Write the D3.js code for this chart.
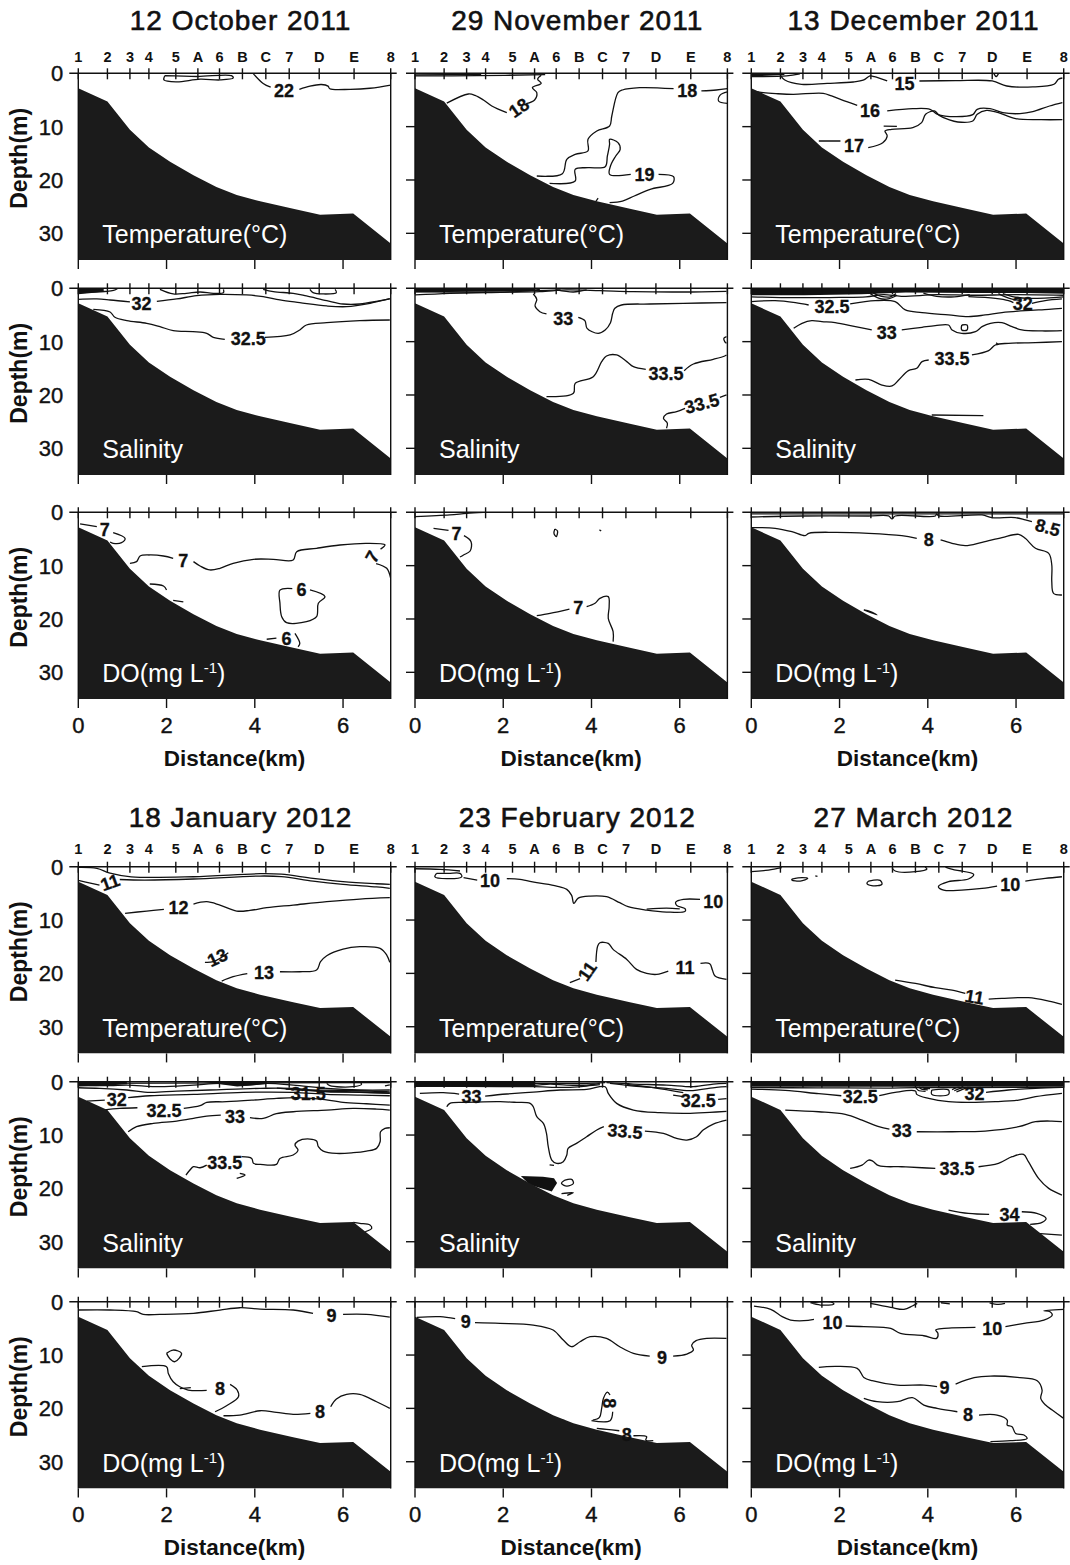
<!DOCTYPE html>
<html><head><meta charset="utf-8">
<script src="https://cdn.jsdelivr.net/npm/d3@7"></script>
<style>body{margin:0;background:#fff}svg{display:block}text{font-family:"Liberation Sans",Arial,sans-serif}</style>
</head><body><svg id="c" width="1070" height="1565"></svg>
<script>
// ---------------- data ----------------
const dates = ["12 October 2011","29 November 2011","13 December 2011","18 January 2012","23 February 2012","27 March 2012"];
const stationNames = ["1","2","3","4","5","A","6","B","C","7","D","E","8"];
const stationKm = [0,0.66,1.17,1.60,2.21,2.71,3.20,3.72,4.25,4.78,5.46,6.25,7.08];
const bathyKm = [0,0.66,1.17,1.60,2.08,2.61,3.13,3.59,4.12,4.87,5.48,6.23,7.08];
const bathyDepth = [2.8,5.3,10.6,13.9,16.6,19.1,21.3,22.8,24.0,25.4,26.5,26.3,31.9];
const xTicks = [0,2,4,6];
const yTicks = [0,10,20,30];

// contour polylines: [km, depth(m)]; labels: [km, depth, text, angle]
const lines_T0 = [
 [[1.96,0.45],[1.94,1.25],[2.23,1.6],[2.76,1.1],[3.21,1.25],[3.51,0.9],[3.47,0.45],[2.7,0.6],[1.96,0.45]],
 [[3.97,0.1],[4.19,1.9],[4.36,2.6]],
 [[5.01,3.0],[5.25,2.4],[5.51,2.1],[5.66,2.4],[5.70,2.9],[6.16,3.0],[6.61,2.8],[7.08,2.2]]];
const labels_T0 = [[4.66,3.25,"22",0]];

const lines_S0 = [
 [[0,0.3],[0.57,0.25]],[[0,0.55],[0.57,0.45]],[[0,0.8],[0.6,0.6],[0.8,0.4],[0.9,0]],
 [[1.85,0.2],[2.15,1.06],[2.45,0.94],[2.76,0.69],[3.06,0.94],[3.29,0.81],[3.29,0.2]],
 [[0,2.06],[0.42,2.0],[0.72,2.19],[1.17,2.56]],
 [[1.78,2.44],[2.23,2.0],[2.68,1.38],[3.21,1.13],[3.81,1.25],[4.19,1.56],[4.57,2.19],[5.02,2.69],[5.63,3.31],[6.08,3.44],[6.61,2.81],[7.06,1.94]],
 [[4.19,0.19],[4.42,0.63],[4.87,0.94],[5.17,1.44],[5.63,2.31],[6.0,2.94],[6.38,2.94],[6.84,2.31],[7.06,2.0]],
 [[5.25,0.19],[5.32,0.81],[5.55,1.06],[5.85,0.81],[5.82,0.19]],
 [[0.34,3.94],[0.72,4.44],[0.83,5.44],[1.10,6.06],[1.55,6.56],[1.85,7.19],[2.15,7.94],[2.60,8.13],[2.91,8.44],[3.06,9.19],[3.32,9.56]],
 [[4.23,9.19],[4.80,8.75],[5.02,7.81],[5.17,6.88],[5.63,6.44],[6.38,6.06],[7.06,5.94]]];
const labels_S0 = [[1.43,2.8,"32",0],[3.85,9.4,"32.5",0]];
const patch_S0 = [[[0,0],[0.57,0],[0.57,0.6],[0.3,0.9],[0,1.1]]];

const lines_D0 = [
 [[0.04,2.19],[0.42,2.69]],
 [[0.79,3.81],[1.06,4.88],[0.98,5.69],[0.79,5.81],[0.72,5.56]],
 [[1.17,9.56],[1.32,9.25],[1.40,8.19],[1.62,8.0],[1.93,8.19],[2.15,8.63]],
 [[2.61,9.25],[2.76,10.06],[2.98,10.81],[3.21,10.5],[3.51,9.56],[3.97,8.81],[4.42,8.81],[4.87,8.94],[4.95,7.38],[5.40,6.75],[5.93,6.13],[6.53,5.81],[6.95,6.1],[6.85,6.9]],
 [[6.75,9.6],[6.99,10.5],[7.08,12.4]],
 [[1.62,13.44],[1.93,13.81],[2.0,14.56]],
 [[2.15,16.5],[2.38,16.8]],
 [[5.25,14.56],[5.59,15.81],[5.44,17.06],[5.40,19.56],[5.17,20.5],[4.72,20.69],[4.61,19.56],[4.57,17.06],[4.57,14.6],[4.85,14.3]],
 [[4.27,23.8],[4.49,23.6]],
 [[4.91,22.7],[5.02,24.6],[4.98,25.2]]];
const labels_D0 = [[0.60,3.2,"7",0],[2.38,9.06,"7",0],[6.66,8.3,"7",-60],[5.06,14.5,"6",0],[4.72,23.6,"6",0]];

const lines_T1 = [
 [[0,0.5],[1.4,0.45],[2.95,0.25]],[[0,0.3],[1.5,0.2]],
 [[2.86,0.38],[2.78,1.13],[2.86,1.88],[2.66,2.69],[2.76,3.63],[2.71,5.0],[2.52,5.69]],
 [[2.08,7.38],[1.74,6.13],[1.55,5.0],[1.36,4.13],[1.21,3.88],[0.72,5.6]],
 [[2.76,19.25],[3.34,18.81],[3.44,16.13],[3.63,15.19],[3.92,14.56],[3.92,12.38],[4.12,10.81],[4.41,9.88],[4.46,8.0],[4.60,3.63],[4.70,3.13],[5.09,2.69],[5.86,2.88]],
 [[6.49,3.31],[6.83,3.13],[7.08,2.88]],
 [[7.08,3.5],[6.91,4.13],[6.88,5.19],[7.08,5.63]],
 [[3.05,20.63],[3.63,20.19],[3.63,18.0],[3.92,17.69],[4.31,17.5],[4.36,15.5],[4.41,13.31],[4.41,12.38],[4.60,13.0],[4.65,14.25],[4.55,15.5],[4.43,17.38],[4.41,18.94],[4.89,18.94]],
 [[5.52,18.94],[5.86,19.38],[5.84,20.63],[5.33,21.75],[4.97,23.0],[4.70,23.94],[4.41,24.25]],
 [[4.1,24.0],[4.15,23.4]]];
const labels_T1 = [[2.35,6.44,"18",-35],[6.17,3.19,"18",0],[5.20,19.06,"19",0]];

const lines_S1 = [
 [[0,1.25],[0.79,0.94],[1.93,0.75],[2.83,0.63],[3.44,0.31],[4.19,0.44],[4.95,0.63],[6.08,0.69],[7.06,0.56]],
 [[0,0.31],[2.68,0.44],[3.3,0.3]],
 [[0,0.63],[2.30,0.63],[2.83,0.19]],
 [[3.21,0.31],[3.59,0.69],[3.89,0.31]],
 [[2.68,1.06],[2.76,2.06],[2.72,3.31],[2.83,4.38],[2.98,4.81]],
 [[3.70,5.44],[3.85,6.06],[3.90,7.5],[4.15,8.44],[4.31,7.81],[4.43,6.44],[4.48,4.69],[4.53,3.75],[4.68,3.13],[5.32,2.94],[6.08,2.81],[7.06,2.69]],
 [[2.98,20.31],[3.59,19.69],[3.63,17.81],[4.04,16.56],[4.23,13.75],[4.34,12.69],[4.57,12.5],[4.80,13.75],[4.95,14.69],[5.23,15.19]],
 [[6.10,15.44],[6.31,14.19],[6.76,13.31],[7.02,12.69],[7.06,12.5]],
 [[7.06,9.06],[7.0,9.38],[7.02,10.0],[7.06,10.31]],
 [[5.70,26.25],[5.72,25.31],[5.63,24.38],[5.70,23.56],[5.93,23.13],[6.12,22.5]],
 [[6.91,20.44],[7.06,20.0]]];
const labels_S1 = [[3.36,5.63,"33",0],[5.69,15.94,"33.5",0],[6.50,21.56,"33.5",-15]];
const patch_S1 = [[[0,0],[2.7,0],[2.7,0.5],[1.5,0.6],[0,0.8]]];

const lines_D1 = [
 [[0,0.81],[0.79,0.5],[1.17,0.19],[1.55,0]],
 [[0.42,3.0],[0.76,3.38]],
 [[1.11,4.38],[1.27,5.5],[1.25,7.25],[1.10,8.0],[1.02,8.38]],
 [[3.17,3.13],[3.23,3.5],[3.20,4.56],[3.15,3.94],[3.17,3.13]],
 [[4.18,3.3],[4.22,3.5]],
 [[2.76,19.38],[3.06,18.94],[3.50,18.13]],
 [[3.89,17.69],[4.08,17.06],[4.19,16.13],[4.38,15.81],[4.40,17.69],[4.38,19.88],[4.49,22.38],[4.49,24.25]]];
const labels_D1 = [[0.94,4.06,"7",0],[3.70,17.88,"7",0]];

const lines_T2 = [
 [[0,0.6],[0.8,0.5],[1.1,0.1]],
 [[0.66,0.38],[0.76,1.25],[1.14,2.06],[1.72,1.88],[2.31,1.63],[2.55,1.25],[2.69,0.5],[2.79,0.63],[3.08,1.44]],
 [[3.81,1.44],[4.63,1.38],[5.46,1.44],[5.79,2.38],[6.38,2.56],[6.86,2.06],[6.96,1.13],[7.05,0.88]],
 [[5.5,0.1],[5.55,0.6],[5.6,0.1]],
 [[0,3.31],[0.27,3.63],[0.56,3.81],[0.95,3.94],[1.63,3.75],[1.82,4.25],[2.11,5.19],[2.40,6.0]],
 [[3.08,7.06],[3.66,6.63],[4.05,6.75],[4.22,7.69],[4.63,8.13],[5.02,7.75],[5.12,6.75],[5.41,6.63],[5.70,7.38],[6.09,7.56],[6.38,7.19],[6.76,6.13],[7.05,5.5]],
 [[1.53,12.69],[2.02,12.69]],
 [[2.65,13.94],[2.98,13.0],[3.08,11.75],[3.03,10.81],[3.18,10.5],[3.66,10.19],[3.86,9.25],[3.95,7.69],[4.15,7.06],[4.26,7.88],[4.49,8.75],[4.68,9.13],[5.02,8.94],[5.12,7.69],[5.33,6.94],[5.60,7.38],[5.99,8.5],[6.57,8.69],[7.05,8.69]],
 [[3.0,9.9],[3.3,9.95]]];
const labels_T2 = [[3.47,1.88,"15",0],[2.69,7.06,"16",0],[2.33,13.5,"17",0]];
const patch_T2 = [[[0,0],[0.75,0],[0.75,0.3],[0,0.6]]];

const lines_S2 = [
 [[0,1.6],[1.0,1.75],[2.0,1.7],[2.6,1.6],[3.0,1.2],[3.4,1.5],[4.2,1.2],[5.0,1.3],[6.0,1.2],[7.08,1.3]],
 [[2.66,0.8],[2.9,1.9],[3.1,2.0],[3.3,1.3]],
 [[2.75,0.8],[2.95,1.5],[3.15,1.6],[3.28,1.0]],
 [[3.9,0.9],[4.2,1.5],[4.6,1.6],[4.95,1.2]],
 [[5.6,1.0],[5.85,1.9],[6.1,2.3]],
 [[5.7,1.0],[5.95,1.6],[6.3,1.9],[7.08,1.6]],
 [[0,2.5],[0.54,2.31],[1.0,2.69],[1.30,3.13]],
 [[2.24,2.94],[2.81,2.31],[3.26,2.5],[3.49,4.06],[3.87,4.56],[4.47,5.0],[4.92,5.31],[5.30,5.0],[5.68,4.56],[6.21,4.19],[6.74,3.94],[7.04,3.75]],
 [[4.92,1.56],[5.53,1.88],[5.83,2.31],[5.94,2.69]],
 [[6.36,2.81],[6.66,2.31],[7.04,2.0]],
 [[0.96,7.5],[1.15,6.56],[1.37,6.06],[1.60,6.25],[1.90,6.44],[2.36,7.19],[2.73,7.81]],
 [[3.41,7.81],[3.87,7.31],[4.17,7.0],[4.47,6.88],[4.55,7.81],[4.77,8.44],[5.08,8.13],[5.23,7.19],[5.42,6.56],[5.68,6.44],[5.91,7.19],[6.13,7.81],[6.59,8.0],[7.04,7.94]],
 [[4.77,6.88],[4.89,6.88],[4.89,7.81],[4.77,7.81],[4.77,6.88]],
 [[2.36,17.19],[2.66,17.06],[2.96,18.13],[3.19,18.31],[3.34,17.19],[3.56,15.44],[3.75,15.0],[3.87,13.75],[4.02,13.44]],
 [[5.0,12.5],[5.38,11.69],[5.53,10.63],[5.83,10.31],[6.44,10.19],[7.04,10.0]],
 [[5.55,10.2],[5.6,10.6]],
 [[4.09,23.75],[5.26,23.88]]];
const labels_S2 = [[1.83,3.44,"32.5",0],[6.15,2.94,"32",0],[3.07,8.25,"33",0],[4.55,13.25,"33.5",0]];
const patch_S2 = [[[0,0],[7.08,0],[7.08,1.0],[6.2,0.9],[5.0,0.9],[3.5,0.8],[2.5,1.1],[1.2,1.3],[0,1.3]]];

const lines_D2 = [
 [[0,0.3],[7.08,0.3]],
 [[0,0.88],[1.15,0.69],[2.66,0.69],[3.11,0.69],[3.19,1.25],[3.26,0.69],[4.17,0.69],[4.2,0.3],[4.25,0.69],[5.23,0.5],[5.45,1.0],[5.98,1.0],[6.21,1.44],[6.36,1.75]],
 [[0,2.88],[0.54,3.0],[0.92,3.63],[1.22,4.38],[1.30,3.94],[1.90,3.75],[2.66,3.94],[3.41,4.38],[3.75,4.88]],
 [[4.29,5.19],[4.55,5.81],[4.85,6.25],[5.23,5.63],[5.68,4.75],[6.06,4.13],[6.21,4.88],[6.44,6.75],[6.74,7.69],[6.81,9.88],[6.81,13.0],[6.85,15.19],[7.04,15.5]],
 [[2.55,18.31],[2.85,19.25],[2.7,18.6],[2.55,18.31]]];
const labels_D2 = [[4.02,5.19,"8",0],[6.72,2.8,"8.5",15]];

const lines_T3 = [
 [[0,0.13],[0.42,0.31],[0.72,1.2],[1.2,1.9],[2.61,1.88],[4.12,1.31],[4.6,1.4],[5.32,2.19],[6.0,2.8],[6.76,3.2],[7.06,3.31]],
 [[0,2.56],[0.30,3.13],[0.48,3.44]],
 [[0.94,2.4],[1.5,2.5],[2.61,2.31],[4.12,1.75],[4.6,1.85],[5.32,2.69],[6.0,3.3],[6.76,3.8],[7.06,4.06]],
 [[1.06,8.75],[1.55,8.31],[1.94,8.0]],
 [[2.61,7.0],[2.91,6.56],[3.21,7.19],[3.59,8.31],[3.89,8.19],[4.27,7.69],[4.87,7.19],[5.63,6.56],[6.38,6.06],[7.06,5.81]],
 [[2.87,17.94],[3.06,17.81],[3.40,16.13]],
 [[3.25,21.44],[3.51,20.63],[3.83,20.06]],
 [[4.57,19.69],[5.02,19.69],[5.40,19.38],[5.49,17.81],[5.63,16.69],[6.0,15.44],[6.38,15.0],[6.84,15.31],[6.99,16.56],[7.06,17.94]]];
const labels_T3 = [[0.72,2.9,"11",-20],[2.27,7.69,"12",0],[3.15,17.0,"13",-25],[4.21,19.81,"13",0]];

const lines_S3 = [
 [[0,0.3],[7.06,0.15]],
 [[0,0.63],[0.72,0.75],[1.10,0.63],[1.85,0.94],[2.61,0.63],[3.21,0.31],[3.81,0.63],[4.27,0.31],[4.87,0.63],[5.63,1.25],[6.38,1.56],[7.06,1.56]],
 [[0,1.13],[0.49,1.25],[1.10,1.56],[1.63,2.0],[2.23,1.75],[2.98,1.56],[4.12,1.25],[4.87,1.25],[5.63,1.88],[6.38,2.0],[7.06,2.19]],
 [[4.5,1.2],[5.0,1.5],[6.0,1.6],[7.06,1.9]],
 [[4.7,1.4],[5.3,1.7],[6.2,1.9],[7.06,2.1]],
 [[5.63,0.31],[5.7,0.75],[6.23,0.94],[6.42,0.5],[6.38,0]],
 [[6.95,0.8],[7.06,0.6]],
 [[0.19,3.63],[0.60,3.44]],
 [[1.13,3.0],[1.62,2.63],[2.61,2.38],[3.74,2.0],[4.87,2.0],[5.63,2.38],[6.38,2.5],[7.06,2.63]],
 [[0.57,5.31],[0.94,5.0],[1.34,4.88]],
 [[2.39,5.0],[2.76,4.5],[2.91,3.88],[3.36,3.75],[3.97,3.44],[4.49,3.13],[4.95,3.0],[5.48,3.25],[6.0,3.88],[6.53,4.13],[7.06,4.38]],
 [[1.13,9.38],[1.32,8.44],[1.70,7.81],[2.23,7.38],[2.61,6.88],[2.91,6.44],[3.23,6.25]],
 [[3.89,6.75],[4.19,6.88],[4.49,6.0],[4.87,5.63],[5.63,5.31],[6.23,5.0],[6.76,5.13],[7.06,5.31]],
 [[2.44,17.5],[2.53,16.56],[2.61,15.94],[2.76,16.13],[2.91,15.63]],
 [[3.70,14.06],[3.93,14.38],[3.97,15.31],[4.12,15.5],[4.49,15.5],[4.57,14.38],[4.87,13.75],[4.98,12.81],[4.91,11.88],[4.98,11.13],[5.25,10.75],[5.40,11.13],[5.44,12.19],[5.55,13.0],[5.85,13.44],[6.23,13.31],[6.53,13.0],[6.76,12.5],[6.84,11.25],[6.85,9.38],[6.95,8.75],[7.06,8.63]],
 [[3.59,18.13],[3.78,17.5],[3.66,17.19]],
 [[6.23,26.38],[6.38,26.56],[6.61,26.88],[6.65,27.5],[6.50,28.13]]];
const labels_S3 = [[0.87,3.25,"32",0],[1.94,5.31,"32.5",0],[3.55,6.56,"33",0],[3.32,15.13,"33.5",0],[5.21,2.2,"31.5",0]];
const patch_S3 = [[[0,0],[1.1,0],[1.1,0.5],[0.5,0.8],[0,0.9]],[[2.83,0.05],[4.27,0.05],[4.27,0.45],[3.6,0.9]]];

const lines_D3 = [
 [[0,1.56],[0.72,1.56],[1.32,1.88],[1.47,2.38],[1.85,2.38],[2.61,2.19],[3.21,1.56],[3.66,1.13],[4.12,1.38],[4.87,1.56],[5.32,2.19]],
 [[6.0,2.38],[6.53,2.38],[7.06,2.88]],
 [[2.0,9.69],[2.15,9.06],[2.34,9.69],[2.19,11.25],[2.08,10.75],[2.0,9.69]],
 [[1.44,12.19],[2.0,12.19],[2.04,13.44],[2.15,15.0],[2.30,15.94],[2.49,16.56],[2.91,16.63]],
 [[3.44,15.5],[3.60,16.56],[3.63,17.81],[3.36,19.5],[3.10,20.63]],
 [[2.30,16.3],[2.55,16.1]],
 [[3.29,21.38],[3.66,21.25],[4.12,20.44],[4.49,20.75],[4.87,21.13],[5.26,20.94]],
 [[5.72,19.69],[5.85,18.25],[6.08,17.38],[6.38,17.38],[6.76,18.75],[7.06,20.0]]];
const labels_D3 = [[5.74,2.63,"9",0],[3.21,16.25,"8",0],[5.48,20.63,"8",0]];

const lines_T4 = [
 [[0,0.38],[0.57,0.5],[1.02,0.81]],
 [[0.49,1.25],[0.45,1.88],[0.72,2.25],[1.06,1.88],[1.02,1.25],[0.76,1.25],[0.49,1.25]],
 [[1.10,2.06],[1.41,2.5]],
 [[2.08,2.25],[2.38,2.38],[2.76,3.0],[3.21,3.63],[3.44,4.25],[3.55,5.38],[3.60,6.88],[3.70,5.88],[3.97,5.5],[4.34,5.63],[4.64,6.75],[4.83,7.5],[5.25,8.13],[5.70,8.5],[6.12,8.38],[6.12,7.88],[5.93,7.25],[5.91,6.63],[6.08,6.13],[6.46,6.13]],
 [[5.25,7.95],[5.7,7.75],[6.0,7.9]],
 [[3.51,21.75],[3.74,21.0]],
 [[4.10,17.88],[4.14,14.88],[4.19,14.25],[4.38,14.38],[4.49,15.5],[4.80,17.38],[5.02,19.25],[5.25,20.0],[5.48,20.19],[5.74,19.56]],
 [[6.47,18.13],[6.68,18.19],[6.74,19.38],[6.80,20.5],[7.06,21.13]]];
const labels_T4 = [[1.70,2.63,"10",0],[6.76,6.5,"10",0],[3.90,19.56,"11",-55],[6.12,18.94,"11",0]];

const lines_S4 = [
 [[0,0.19],[2.68,0.31],[3.89,0.31],[4.31,0.19]],
 [[0,0.5],[1.17,0.63],[2.68,0.69],[3.06,0.44],[3.44,0.63],[3.89,0.63],[4.19,0.31]],
 [[0,0.81],[1.93,0.94],[2.68,0.94],[3.44,1.06],[3.89,0.81],[4.19,0.56]],
 [[4.34,0.19],[4.95,0.44],[5.70,0.63],[6.31,0.94],[6.76,0.44],[7.06,0.31]],
 [[4.42,0.31],[4.95,0.81],[5.70,1.25],[6.23,1.69],[6.83,1.06],[7.06,0.94]],
 [[4.8,0.5],[5.4,1.1],[6.08,2.06]],
 [[5.85,2.5],[6.08,2.81]],
 [[6.87,3.3],[7.06,3.19]],
 [[0.11,2.19],[0.64,2.06],[1.0,2.31]],
 [[1.59,2.69],[2.08,2.31],[2.68,1.94],[3.29,1.56],[3.89,1.44],[4.31,0.94],[4.38,2.19],[4.57,4.06],[4.95,5.31],[5.55,5.81],[6.16,5.94],[6.68,5.75],[7.06,5.56]],
 [[0.72,4.69],[0.79,4.06],[1.17,3.88],[1.93,3.75],[2.30,3.88],[2.61,4.06],[2.68,4.69],[2.76,6.56],[2.91,7.81],[2.98,9.69],[3.02,12.19],[3.10,14.69],[3.21,15.31],[3.36,15.0],[3.44,13.75],[3.47,12.5],[3.66,11.56],[3.89,10.31],[4.12,9.06],[4.28,8.44]],
 [[5.21,9.25],[5.63,9.69],[5.93,10.63],[6.16,10.94],[6.38,10.31],[6.53,9.06],[6.76,7.94],[7.06,7.19]],
 [[3.40,18.44],[3.55,18.31],[3.59,19.06],[3.44,19.56],[3.32,19.06],[3.40,18.44]],
 [[3.32,21.0],[3.59,20.8],[3.45,21.3]],
 [[3.05,15.6],[3.15,15.7]]];
const labels_S4 = [[1.28,2.81,"33",0],[4.76,9.25,"33.5",5],[6.42,3.44,"32.5",0]];
const patch_S4 = [[[0,0],[2.7,0],[2.7,0.85],[0,1.0]],[[2.4,17.7],[2.9,17.8],[3.15,18.1],[3.22,19.0],[3.1,20.6],[2.6,19.3]]];

const lines_D4 = [
 [[0.04,2.94],[0.57,2.81],[0.91,3.19]],
 [[1.36,3.94],[1.93,4.06],[2.68,4.38],[3.13,5.31],[3.36,7.19],[3.55,8.44],[3.74,7.5],[3.97,6.56],[4.34,6.88],[4.64,8.44],[4.95,9.69],[5.32,10.19]],
 [[5.85,10.19],[6.16,9.81],[6.31,9.06],[6.27,8.13],[6.37,7.31],[6.61,6.88],[7.06,6.88]],
 [[4.0,22.31],[4.42,22.31],[4.48,20.63]],
 [[4.42,17.5],[4.36,16.94],[4.27,18.13],[4.23,20.0],[4.18,21.69],[4.03,22.19]],
 [[4.12,23.75],[4.34,23.94],[4.63,24.19]],
 [[4.95,25.13],[5.25,25.31],[5.23,25.94],[5.40,26.06]],
 [[3.25,22.1],[3.4,22.3]]];
const labels_D4 = [[1.15,3.75,"9",0],[5.60,10.44,"9",0],[4.40,19.06,"8",90],[4.80,24.81,"8",0]];

const lines_T5 = [
 [[0,0.94],[0.39,0.63],[0.69,0.19]],
 [[0.92,2.31],[1.15,2.06],[1.28,2.19],[1.11,2.69],[0.92,2.5],[0.92,2.31]],
 [[1.45,1.7],[1.5,1.8]],
 [[2.66,2.69],[2.92,2.56],[2.96,3.31],[2.73,3.56],[2.62,3.13],[2.66,2.69]],
 [[3.19,0.19],[3.26,0.81],[3.72,0.94],[3.98,0.44],[3.94,0.06]],
 [[4.4,0.1],[4.6,0.6],[4.77,0.81]],
 [[4.77,0.81],[5.04,1.44],[4.92,2.31],[4.47,2.81],[4.24,3.75],[4.36,4.38],[4.77,4.38],[5.23,4.06],[5.57,3.63]],
 [[6.21,2.69],[6.66,2.19],[7.04,1.88]],
 [[3.26,21.25],[3.72,21.88],[4.17,22.69],[4.55,23.13],[4.85,23.75]],
 [[5.38,24.81],[5.68,24.69],[6.28,24.56],[6.74,25.19],[7.04,25.81]]];
const labels_T5 = [[5.87,3.31,"10",0],[5.06,24.38,"11",10]];

const lines_S5 = [
 [[0,1.1],[1.5,1.15],[3.0,1.2],[3.72,1.1],[5.0,1.1],[7.08,1.05]],
 [[0,1.38],[0.77,1.63],[1.53,2.25],[2.04,2.63]],
 [[2.90,2.63],[3.26,2.0],[3.72,1.75],[3.75,2.38],[4.02,3.13],[4.47,3.75],[4.92,3.88],[5.53,3.75],[6.06,3.44],[6.44,2.81],[7.04,2.19]],
 [[4.09,1.56],[4.47,1.56],[4.47,2.38],[4.09,2.38],[4.09,1.56]],
 [[5.32,2.0],[5.83,1.56],[6.44,1.25],[7.04,1.06]],
 [[3.72,1.0],[3.78,1.6],[3.95,1.8]],
 [[3.80,1.0],[3.86,1.4],[4.0,1.55]],
 [[3.88,1.0],[3.92,1.25],[4.05,1.3]],
 [[4.55,1.5],[4.65,1.1],[4.72,1.0]],
 [[4.60,1.7],[4.72,1.3],[4.82,1.0]],
 [[4.65,1.9],[4.8,1.4],[4.92,1.0]],
 [[0.77,5.31],[1.53,5.63],[2.13,6.13],[2.51,7.19],[2.89,8.44],[3.13,8.88]],
 [[3.75,9.38],[4.55,9.38],[5.30,9.25],[6.06,8.44],[6.44,7.5],[6.81,7.38],[7.04,7.5]],
 [[2.24,16.25],[2.51,15.63],[2.66,14.69],[2.75,14.88],[2.89,15.75],[3.41,15.94],[3.87,16.13],[4.17,16.25]],
 [[5.15,15.94],[5.60,15.31],[5.91,14.06],[6.17,13.63],[6.28,15.0],[6.51,18.13],[6.74,20.0],[7.04,21.25]],
 [[4.47,24.06],[4.92,24.69],[5.39,24.88]],
 [[6.13,24.38],[6.47,24.69],[6.68,25.63],[6.59,26.38],[6.32,26.75]],
 [[6.47,28.44],[7.04,28.75]]];
const labels_S5 = [[2.47,2.81,"32.5",0],[5.06,2.25,"32",0],[3.41,9.19,"33",0],[4.66,16.25,"33.5",0],[5.85,24.88,"34",0]];
const patch_S5 = [[[0,0],[7.08,0],[7.08,0.95],[0,0.95]]];

const lines_D5 = [
 [[1.34,0.19],[1.57,0.63],[1.87,0.44],[1.80,0.05],[1.34,0.19]],
 [[2.70,0.31],[3.16,1.06],[3.46,1.44],[3.65,0.81],[3.76,0.31]],
 [[4.3,0.2],[4.5,0.4]],[[5.4,0.2],[5.6,0.5],[5.75,0.3]],
 [[0.06,0.81],[0.44,1.44],[0.70,2.81],[0.89,3.44],[1.19,3.56],[1.42,3.31]],
 [[2.14,4.56],[2.55,4.69],[3.16,5.0],[3.38,5.94],[3.91,6.38],[4.20,6.88],[4.23,5.94],[4.18,5.31],[4.37,5.0],[5.08,4.81]],
 [[5.76,4.69],[6.18,4.06],[6.63,3.44],[6.82,2.5],[6.77,1.88],[6.63,1.69],[7.08,1.44]],
 [[1.53,12.31],[2.40,12.5],[2.55,14.19],[2.74,14.81],[3.31,15.63],[3.91,15.63],[4.21,15.94]],
 [[4.63,15.44],[5.05,14.25],[5.42,13.94],[6.03,14.19],[6.48,14.81],[6.59,16.56],[6.56,18.13],[6.67,19.38],[6.82,20.31],[7.08,21.88]],
 [[2.55,18.13],[2.85,18.75],[3.31,18.75],[3.65,18.0],[3.91,19.38],[4.21,20.0],[4.67,20.63]],
 [[5.16,21.25],[5.57,21.25],[5.80,22.19],[5.80,23.13],[5.91,23.44],[5.99,24.69],[6.18,25.0],[6.25,25.63],[5.88,26.06],[5.42,26.25]]];
const labels_D5 = [[1.84,3.94,"10",0],[5.46,5.0,"10",0],[4.38,16.06,"9",0],[4.91,21.06,"8",0]];

// ---------------- assemble ----------------
const linesT=[lines_T0,lines_T1,lines_T2,lines_T3,lines_T4,lines_T5];
const linesS=[lines_S0,lines_S1,lines_S2,lines_S3,lines_S4,lines_S5];
const linesD=[lines_D0,lines_D1,lines_D2,lines_D3,lines_D4,lines_D5];
const labT=[labels_T0,labels_T1,labels_T2,labels_T3,labels_T4,labels_T5];
const labS=[labels_S0,labels_S1,labels_S2,labels_S3,labels_S4,labels_S5];
const labD=[labels_D0,labels_D1,labels_D2,labels_D3,labels_D4,labels_D5];
const patT=[[],[],patch_T2,[],[],[]];
const patS=[patch_S0,patch_S1,patch_S2,patch_S3,patch_S4,patch_S5];
const patD=[[],[],[],[],[],[]];
const vars=[{lines:linesT,labs:labT,pats:patT},{lines:linesS,labs:labS,pats:patS},{lines:linesD,labs:labD,pats:patD}];

// ---------------- layout ----------------
const W=312.4, H=186.7;
const colLeft=[78.3,415,751.3];
const blockTops=[[73.3,288.3,512.3],[866.7,1081.7,1301.7]];
const titleY=[29.5,826.5], stationY=[61.5,854];

const svg=d3.select("#c");
const defs=svg.append("defs");
const ink="#111";

for(let b=0;b<2;b++){
 for(let c=0;c<3;c++){
  const di=b*3+c;
  const x0=colLeft[c];
  const x=d3.scaleLinear().domain([0,7.08]).range([x0,x0+W]);
  svg.append("text").attr("x",x0+W/2+6).attr("y",titleY[b]).attr("text-anchor","middle")
    .attr("font-size",28).attr("letter-spacing",1).attr("fill",ink)
    .attr("stroke",ink).attr("stroke-width",0.6).text(dates[di]);
  svg.append("g").selectAll("text").data(stationNames).join("text")
    .attr("x",(d,i)=>x(stationKm[i])).attr("y",stationY[b]).attr("text-anchor","middle")
    .attr("font-size",14.5).attr("font-weight","bold").attr("fill",ink).text(d=>d);
  for(let r=0;r<3;r++){
   const top=blockTops[b][r];
   const y=d3.scaleLinear().domain([0,35]).range([top,top+H]);
   const v=vars[r];
   const g=svg.append("g");
   const cid=`clip${b}${c}${r}`;
   defs.append("clipPath").attr("id",cid).append("rect").attr("x",x0).attr("y",top).attr("width",W).attr("height",H);
   const cg=g.append("g").attr("clip-path",`url(#${cid})`);
   const line=d3.line().x(d=>x(d[0])).y(d=>y(d[1])).curve(d3.curveCatmullRom.alpha(0.5));
   const poly=d3.line().x(d=>x(d[0])).y(d=>y(d[1]));
   cg.selectAll("path.p").data(v.pats[di]).join("path").attr("class","p")
     .attr("d",d=>poly(d)+"Z").attr("fill",ink);
   cg.selectAll("path.c").data(v.lines[di]).join("path").attr("class","c")
     .attr("d",line).attr("fill","none").attr("stroke",ink).attr("stroke-width",1.3);
   const bath=bathyKm.map((k,i)=>[k,bathyDepth[i]]);
   const area=d3.area().x(d=>x(d[0])).y0(y(35)).y1(d=>y(d[1]));
   cg.append("path").attr("d",area(bath)).attr("fill","#1b1b1b");
   g.append("line").attr("x1",x0-9).attr("x2",x0+W+6).attr("y1",top).attr("y2",top).attr("stroke",ink).attr("stroke-width",1.4);
   g.append("line").attr("x1",x0+W).attr("x2",x0+W).attr("y1",top).attr("y2",top+H).attr("stroke",ink).attr("stroke-width",1.4);
   g.append("line").attr("x1",x0).attr("x2",x0).attr("y1",top).attr("y2",top+H).attr("stroke",ink).attr("stroke-width",1.4);
   g.selectAll("line.st").data(stationKm).join("line").attr("class","st")
     .attr("x1",d=>x(d)).attr("x2",d=>x(d)).attr("y1",top-5).attr("y2",top+6).attr("stroke",ink).attr("stroke-width",1.4);
   g.selectAll("line.xt").data(xTicks).join("line").attr("class","xt")
     .attr("x1",d=>x(d)).attr("x2",d=>x(d)).attr("y1",top+H).attr("y2",top+H+9).attr("stroke",ink).attr("stroke-width",1.4);
   if(c>0){
     g.selectAll("line.yt").data(yTicks.slice(1)).join("line").attr("class","yt")
      .attr("x1",x0-9).attr("x2",x0).attr("y1",d=>y(d)).attr("y2",d=>y(d)).attr("stroke",ink).attr("stroke-width",1.4);
   } else {
     g.selectAll("text.yl").data(yTicks).join("text").attr("class","yl")
      .attr("x",x0-15).attr("y",d=>y(d)).attr("dy","0.36em").attr("text-anchor","end")
      .attr("font-size",22).attr("fill",ink).attr("stroke",ink).attr("stroke-width",0.4).text(d=>d);
     g.append("text").attr("transform",`translate(27,${top+85}) rotate(-90)`)
      .attr("text-anchor","middle").attr("font-size",23).attr("font-weight","bold").attr("fill",ink).text("Depth(m)");
   }
   g.selectAll("text.cl").data(v.labs[di]).join("text").attr("class","cl")
     .attr("transform",d=>`translate(${x(d[0])},${y(d[1])}) rotate(${d[3]})`)
     .attr("text-anchor","middle").attr("dy","0.36em").attr("font-size",18).attr("font-weight","bold")
     .attr("fill",ink).attr("stroke",ink).attr("stroke-width",0.3).text(d=>d[2]);
   const vt=g.append("text").attr("x",x0+24).attr("y",top+170).attr("font-size",25).attr("fill","#fff");
   if(r===0) vt.text("Temperature(°C)");
   else if(r===1) vt.text("Salinity");
   else {
     vt.append("tspan").text("DO(mg L");
     vt.append("tspan").attr("font-size",15).attr("dy",-9).text("-1");
     vt.append("tspan").attr("dy",9).text(")");
   }
   if(r===2){
     g.selectAll("text.xl").data(xTicks).join("text").attr("class","xl")
      .attr("x",d=>x(d)).attr("y",top+H+34).attr("text-anchor","middle").attr("font-size",22)
      .attr("fill",ink).attr("stroke",ink).attr("stroke-width",0.4).text(d=>d);
     g.append("text").attr("x",x0+W/2).attr("y",top+H+67).attr("text-anchor","middle")
      .attr("font-size",22.5).attr("font-weight","bold").attr("fill",ink).text("Distance(km)");
   }
  }
 }
}
</script></body></html>
